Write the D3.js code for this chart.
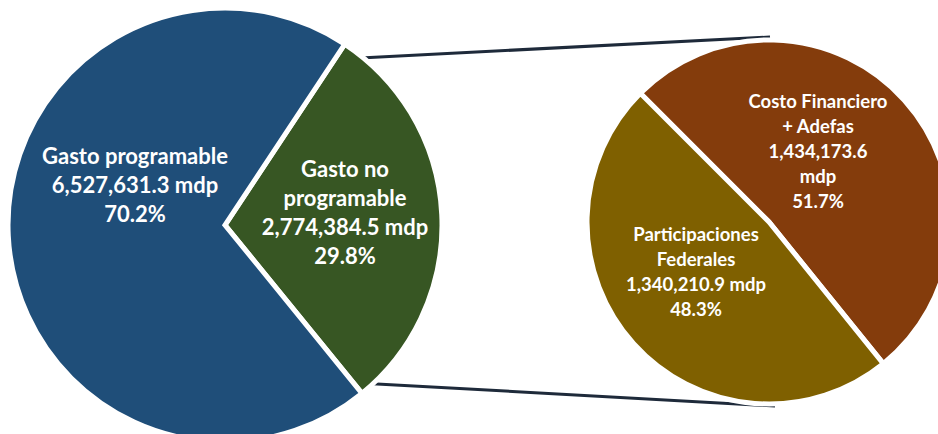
<!DOCTYPE html>
<html>
<head>
<meta charset="utf-8">
<script src="https://cdn.jsdelivr.net/npm/d3@7"></script>
<style>
  body { margin: 0; background: #fff; }
  svg { display: block; }
</style>
</head>
<body>
<div id="chart"></div>
<script>
// main pie: gasto neto total
const mainNames = ["Gasto no programable", "Gasto programable"];
const mainValues = [2774384.5, 6527631.3];
const mainLabels = [
  ["Gasto no", "programable", "2,774,384.5 mdp", "29.8%"],
  ["Gasto programable", "6,527,631.3 mdp", "70.2%"]
];

// secondary pie: breakdown of gasto no programable
const subNames = ["Costo Financiero + Adefas", "Participaciones Federales"];
const subValues = [1434173.6, 1340210.9];
const subLabels = [
  ["Costo Financiero", "+ Adefas", "1,434,173.6", "mdp", "51.7%"],
  ["Participaciones", "Federales", "1,340,210.9 mdp", "48.3%"]
];

const mainColors = ["#375623", "#1f4e79"];
const subColors = ["#843c0c", "#7f6000"];

const width = 938, height = 434;
const deg = Math.PI / 180;

const svg = d3.select("#chart").append("svg")
  .attr("width", width)
  .attr("height", height);

const main = { cx: 225, cy: 225, r: 217 };
const sub = { cx: 769, cy: 222, r: 182 };

const mainPie = d3.pie().sort(null)
  .startAngle(33.5 * deg)
  .endAngle(33.5 * deg + 2 * Math.PI);
const subPie = d3.pie().sort(null)
  .startAngle(-45 * deg)
  .endAngle(-45 * deg + 2 * Math.PI);

const mainArcs = mainPie(mainValues);
const subArcs = subPie(subValues);

function polar(c, r, a) {
  return [c.cx + r * Math.sin(a), c.cy - r * Math.cos(a)];
}

// connector lines from the exploded slice to the secondary pie
const green = mainArcs[0];
const connectors = [
  [polar(main, 215, green.startAngle + 5.5 * deg), [sub.cx + 1, sub.cy - sub.r - 3]],
  [polar(main, 210, green.endAngle - 2 * deg), [sub.cx + 6, sub.cy + sub.r + 2]]
];
svg.selectAll("line.connector")
  .data(connectors)
  .join("line")
  .attr("class", "connector")
  .attr("x1", d => d[0][0])
  .attr("y1", d => d[0][1])
  .attr("x2", d => d[1][0])
  .attr("y2", d => d[1][1])
  .attr("stroke", "#1e2a3a")
  .attr("stroke-width", 3);

function drawPie(c, arcs, colors, labels, labelOffsets, fontSize, lineH) {
  const g = svg.append("g").attr("transform", `translate(${c.cx},${c.cy})`);
  const arc = d3.arc().innerRadius(0).outerRadius(c.r);

  g.selectAll("path")
    .data(arcs)
    .join("path")
    .attr("d", arc)
    .attr("fill", (d, i) => colors[i])
    .attr("stroke", "#fff")
    .attr("stroke-width", 5)
    .attr("stroke-linejoin", "miter");

  arcs.forEach((d, i) => {
    const lines = labels[i];
    const [ox, oy] = labelOffsets[i];
    const t = g.append("text")
      .attr("text-anchor", "middle")
      .attr("fill", "#fff")
      .style("font-family", "Lato, 'Open Sans', sans-serif")
      .style("font-weight", 700)
      .style("font-size", fontSize + "px");
    const y0 = oy - (lines.length - 1) * lineH / 2;
    lines.forEach((ln, j) => {
      t.append("tspan")
        .attr("x", ox)
        .attr("y", y0 + j * lineH)
        .attr("dy", "0.35em")
        .text(ln);
    });
  });
}

drawPie(main, mainArcs, mainColors, mainLabels, [[120, -12], [-90, -40]], 22, 29);
drawPie(sub, subArcs, subColors, subLabels, [[49, -70], [-73, 50]], 18.5, 25);
</script>
</body>
</html>
